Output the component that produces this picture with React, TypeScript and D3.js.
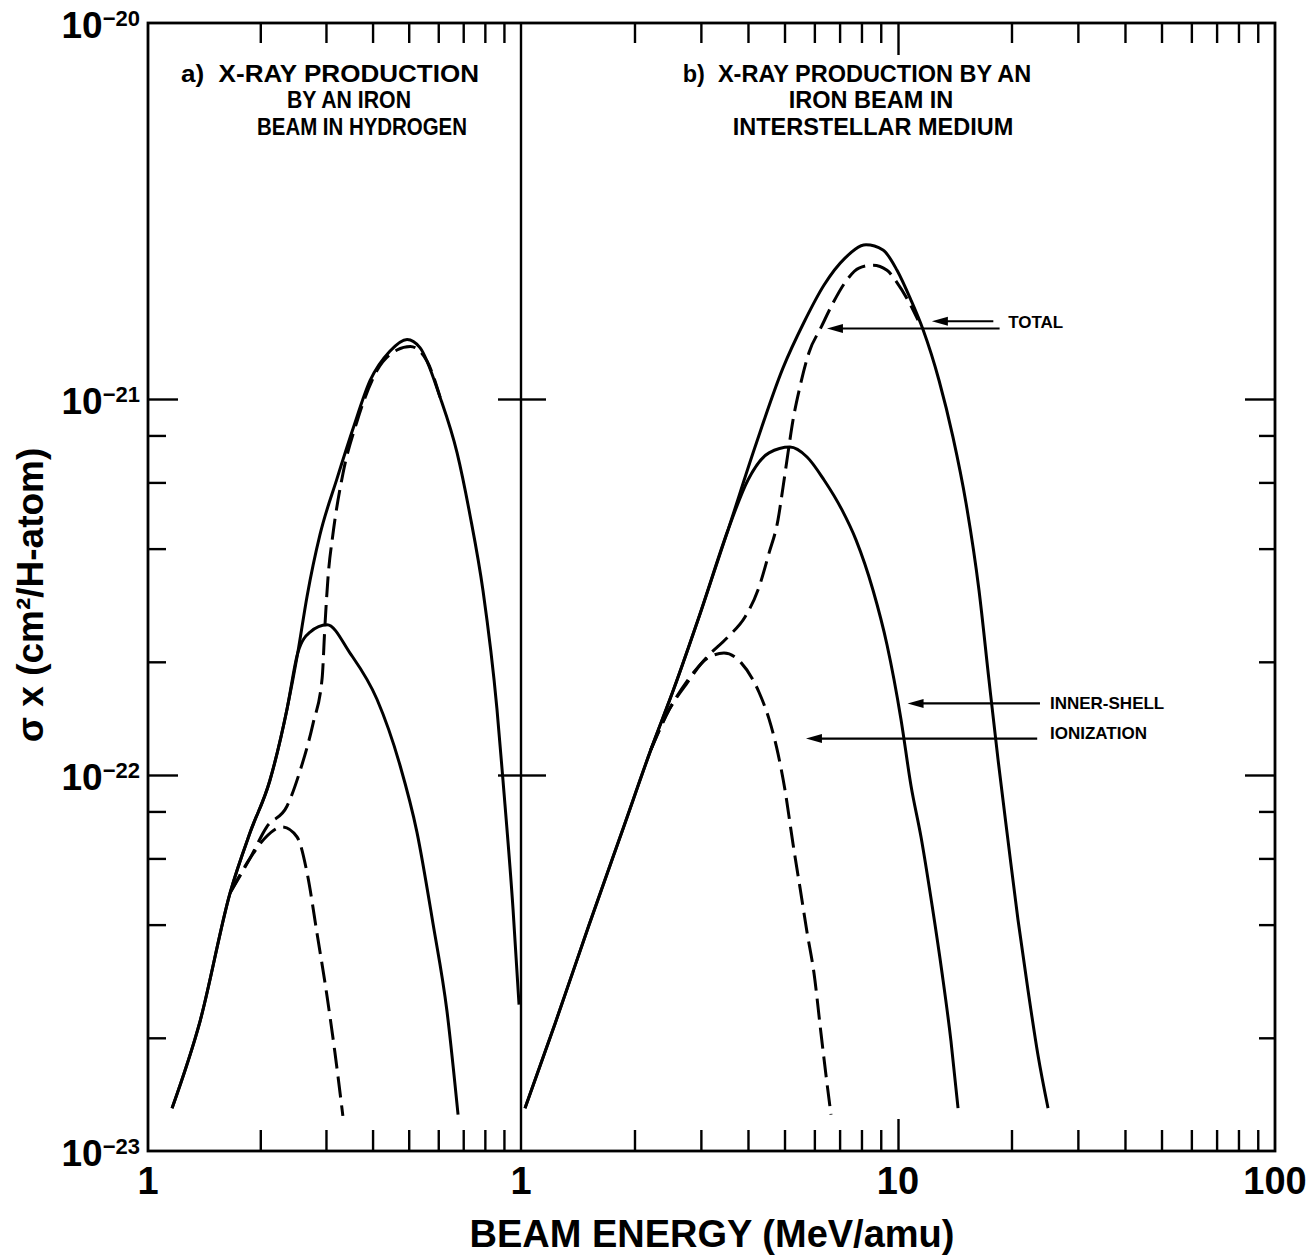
import React from "react";
import * as d3 from "d3";

// values: beam energy in MeV/amu, sigma_x in cm^2/H-atom

// a) X-ray production by an iron beam in hydrogen
const totalAEnergy = [0.116, 0.138, 0.166, 0.188, 0.212, 0.236, 0.252, 0.267, 0.289, 0.321, 0.355, 0.394, 0.445, 0.495, 0.536, 0.607, 0.674, 0.730, 0.791, 0.862, 0.895, 0.952, 0.988];
const totalASigma = [1.30e-23, 2.22e-23, 4.86e-23, 7.05e-23, 9.64e-23, 1.50e-22, 2.11e-22, 2.99e-22, 4.35e-22, 6.13e-22, 8.37e-22, 1.12e-21, 1.34e-21, 1.44e-21, 1.37e-21, 1.01e-21, 7.19e-22, 4.91e-22, 3.09e-22, 1.50e-22, 9.64e-23, 4.40e-23, 2.45e-23];
const innerAEnergy = [0.116, 0.138, 0.166, 0.188, 0.212, 0.236, 0.252, 0.272, 0.302, 0.348, 0.411, 0.474, 0.526, 0.581, 0.633, 0.678];
const innerASigma = [1.30e-23, 2.22e-23, 4.86e-23, 7.05e-23, 9.64e-23, 1.50e-22, 2.11e-22, 2.40e-22, 2.51e-22, 2.11e-22, 1.59e-22, 1.06e-22, 7.05e-23, 4.02e-23, 2.36e-23, 1.25e-23];
const dashTotalAEnergy = [0.166, 0.188, 0.208, 0.236, 0.256, 0.277, 0.293, 0.298, 0.304, 0.313, 0.333, 0.363, 0.411, 0.465, 0.505, 0.560, 0.607];
const dashTotalASigma = [4.86e-23, 6.02e-23, 7.27e-23, 8.27e-23, 1.03e-22, 1.37e-22, 1.81e-22, 2.48e-22, 3.38e-22, 4.35e-22, 6.32e-22, 8.69e-22, 1.19e-21, 1.35e-21, 1.38e-21, 1.26e-21, 1.01e-21];
const dashInnerAEnergy = [0.166, 0.188, 0.206, 0.229, 0.251, 0.267, 0.284, 0.302, 0.317, 0.333];
const dashInnerASigma = [4.86e-23, 6.02e-23, 6.80e-23, 7.27e-23, 6.84e-23, 5.49e-23, 3.78e-23, 2.58e-23, 1.83e-23, 1.24e-23];

// b) X-ray production by an iron beam in interstellar medium
const totalBEnergy = [1.025, 1.231, 1.515, 1.876, 2.212, 2.546, 2.984, 3.540, 4.176, 4.955, 5.632, 6.366, 7.234, 8.227, 9.125, 9.94, 10.83, 11.65, 12.85, 13.99, 15.15, 16.40, 17.43, 18.42, 19.57, 20.81, 22.12, 23.51, 25.00];
const totalBSigma = [1.30e-23, 2.18e-23, 3.99e-23, 7.32e-23, 1.17e-22, 1.70e-22, 2.68e-22, 4.48e-22, 7.45e-22, 1.21e-21, 1.60e-21, 2.01e-21, 2.37e-21, 2.57e-21, 2.49e-21, 2.20e-21, 1.83e-21, 1.53e-21, 1.12e-21, 7.92e-22, 5.29e-22, 3.10e-22, 1.79e-22, 1.10e-22, 6.72e-23, 4.12e-23, 2.68e-23, 1.80e-23, 1.30e-23];
const innerBEnergy = [1.025, 1.231, 1.515, 1.876, 2.212, 2.546, 2.984, 3.540, 4.00, 4.548, 5.171, 5.737, 6.366, 7.103, 7.737, 8.586, 9.35, 10.18, 10.83, 11.51, 12.31, 13.09, 13.82, 14.43];
const innerBSigma = [1.30e-23, 2.18e-23, 3.99e-23, 7.32e-23, 1.17e-22, 1.70e-22, 2.68e-22, 4.48e-22, 6.09e-22, 7.19e-22, 7.45e-22, 7.01e-22, 6.09e-22, 5.07e-22, 4.22e-22, 3.10e-22, 2.22e-22, 1.41e-22, 9.35e-23, 6.84e-23, 4.51e-23, 2.97e-23, 1.96e-23, 1.30e-23];
const dashTotalBEnergy = [2.212, 2.47, 2.773, 3.114, 3.540, 3.928, 4.279, 4.548, 4.805, 4.955, 5.108, 5.267, 5.497, 5.807, 6.25, 6.723, 7.234, 7.88, 8.586, 9.35, 9.94, 10.63, 11.30];
const dashTotalBSigma = [1.17e-22, 1.49e-22, 1.79e-22, 2.06e-22, 2.33e-22, 2.63e-22, 3.16e-22, 3.89e-22, 4.77e-22, 5.83e-22, 7.19e-22, 8.79e-22, 1.08e-21, 1.33e-21, 1.55e-21, 1.80e-21, 2.04e-21, 2.23e-21, 2.27e-21, 2.20e-21, 2.04e-21, 1.83e-21, 1.62e-21];
const dashInnerBEnergy = [2.212, 2.47, 2.74, 3.114, 3.455, 3.834, 4.279, 4.548, 4.805, 5.015, 5.267, 5.497, 5.737, 5.987, 6.25, 6.442, 6.641];
const dashInnerBSigma = [1.17e-22, 1.49e-22, 1.74e-22, 2.04e-22, 2.11e-22, 1.99e-22, 1.66e-22, 1.41e-22, 1.14e-22, 9.12e-23, 6.55e-23, 5.01e-23, 3.82e-23, 2.97e-23, 2.05e-23, 1.59e-23, 1.25e-23];

// axes
const xTickMult = [2, 3, 4, 5, 6, 7, 8, 9];
const xLabelEnergy = [0.1, 1, 10, 100];
const xLabelText = ["1", "1", "10", "100"];
const yLabelValue = [1e-20, 1e-21, 1e-22, 1e-23];
const yLabelExp = ["\u221220", "\u221221", "\u221222", "\u221223"];
const yMinorTicks = [2e-23, 4e-23, 6e-23, 8e-23, 2e-22, 4e-22, 6e-22, 8e-22];
const yMajorTicks = [1e-22, 1e-21];

// titles and annotations
const titleA = ["a)  X-RAY PRODUCTION", "BY AN IRON", "BEAM IN HYDROGEN"];
const titleB = ["b)  X-RAY PRODUCTION BY AN", "IRON BEAM IN", "INTERSTELLAR MEDIUM"];
const arrowFromEnergy = [17.9, 18.6, 23.8, 23.4];
const arrowToEnergy = [12.3, 6.48, 10.6, 5.70];
const arrowSigma = [1.61e-21, 1.54e-21, 1.55e-22, 1.25e-22];
const noteText = ["TOTAL", "INNER-SHELL", "IONIZATION"];
const noteEnergy = [19.6, 25.3, 25.3];
const noteSigma = [1.60e-21, 1.55e-22, 1.29e-22];

export default class App extends React.Component {

    componentDidMount() {
        this.updateChart();
    }

    componentDidUpdate() {
        this.updateChart();
    }

    updateChart() {
        document.body.style.margin = "0";
        d3.select("#xray_chart").selectAll("*").remove();

        const width = 1308, height = 1258;
        const left = 148, right = 1275, top = 23, bottom = 1151, divide = 521;

        const svg = d3.select("#xray_chart")
            .append("svg")
            .attr("width", width)
            .attr("height", height)
            .style("display", "block")
            .style("background", "#fff")
            .attr("font-family", "'Liberation Sans', Arial, Helvetica, sans-serif")
            .attr("font-weight", "bold");

        const xA = d3.scaleLog().domain([0.1, 1]).range([left, divide]);
        const xB = d3.scaleLog().domain([1, 100]).range([divide, right]);
        const y = d3.scaleLog().domain([1e-23, 1e-20]).range([bottom, top]);
        const xAt = (e: number) => (e < 1 ? xA(e) : xB(e));

        const aTicks = xTickMult.map(m => m * 0.1);
        const bTicks = xTickMult.map(m => m).concat(xTickMult.map(m => m * 10));

        // inward ticks, labels drawn separately
        const drawTicks = (axis: any, transform: string) => {
            svg.append("g")
                .attr("transform", transform)
                .call(axis.tickFormat(() => "").tickSizeOuter(0))
                .call((g: any) => g.select(".domain").remove())
                .selectAll("line")
                .attr("stroke", "#000")
                .attr("stroke-width", 2.4);
        };
        drawTicks(d3.axisTop(xA).tickValues(aTicks).tickSizeInner(-20), `translate(0,${top})`);
        drawTicks(d3.axisTop(xB).tickValues(bTicks).tickSizeInner(-20), `translate(0,${top})`);
        drawTicks(d3.axisTop(xB).tickValues([10]).tickSizeInner(-32), `translate(0,${top})`);
        drawTicks(d3.axisBottom(xA).tickValues(aTicks).tickSizeInner(-21), `translate(0,${bottom})`);
        drawTicks(d3.axisBottom(xB).tickValues(bTicks).tickSizeInner(-21), `translate(0,${bottom})`);
        drawTicks(d3.axisBottom(xB).tickValues([10]).tickSizeInner(-32), `translate(0,${bottom})`);
        drawTicks(d3.axisLeft(y).tickValues(yMinorTicks).tickSizeInner(-18), `translate(${left},0)`);
        drawTicks(d3.axisLeft(y).tickValues(yMajorTicks).tickSizeInner(-30), `translate(${left},0)`);
        drawTicks(d3.axisRight(y).tickValues(yMinorTicks).tickSizeInner(-16), `translate(${right},0)`);
        drawTicks(d3.axisRight(y).tickValues(yMajorTicks).tickSizeInner(-30), `translate(${right},0)`);
        drawTicks(d3.axisLeft(y).tickValues(yMajorTicks).tickSizeInner(23), `translate(${divide},0)`);
        drawTicks(d3.axisRight(y).tickValues(yMajorTicks).tickSizeInner(25), `translate(${divide},0)`);

        // frame and panel divider
        svg.append("rect")
            .attr("x", left).attr("y", top)
            .attr("width", right - left).attr("height", bottom - top)
            .attr("fill", "none").attr("stroke", "#000").attr("stroke-width", 2.8);
        svg.append("line")
            .attr("x1", xB(1)).attr("x2", xB(1))
            .attr("y1", top).attr("y2", bottom)
            .attr("stroke", "#000").attr("stroke-width", 2.4);

        // curves
        const curves = [
            { e: totalAEnergy, s: totalASigma, x: xA, dash: false },
            { e: innerAEnergy, s: innerASigma, x: xA, dash: false },
            { e: dashTotalAEnergy, s: dashTotalASigma, x: xA, dash: true },
            { e: dashInnerAEnergy, s: dashInnerASigma, x: xA, dash: true },
            { e: totalBEnergy, s: totalBSigma, x: xB, dash: false },
            { e: innerBEnergy, s: innerBSigma, x: xB, dash: false },
            { e: dashTotalBEnergy, s: dashTotalBSigma, x: xB, dash: true },
            { e: dashInnerBEnergy, s: dashInnerBSigma, x: xB, dash: true },
        ];
        curves.forEach(c => {
            const pts: [number, number][] = c.e.map((e, i) => [e, c.s[i]]);
            const line = d3.line<[number, number]>()
                .x(d => c.x(d[0]))
                .y(d => y(d[1]))
                .curve(d3.curveMonotoneX);
            svg.append("path")
                .attr("d", line(pts))
                .attr("fill", "none")
                .attr("stroke", "#000")
                .attr("stroke-width", 3)
                .attr("stroke-dasharray", c.dash ? "21 8" : null);
        });

        // x tick labels
        svg.append("g")
            .selectAll("text")
            .data(xLabelEnergy)
            .enter()
            .append("text")
            .attr("x", d => xAt(d))
            .attr("y", 1194)
            .attr("text-anchor", "middle")
            .attr("font-size", 38)
            .text((d, i) => xLabelText[i]);

        // y tick labels 10^-n
        const yl = svg.append("g")
            .selectAll("text")
            .data(yLabelValue)
            .enter()
            .append("text")
            .attr("x", 140)
            .attr("y", d => y(d) + 15)
            .attr("text-anchor", "end")
            .attr("font-size", 37);
        yl.append("tspan").text("10");
        yl.append("tspan")
            .attr("dy", -12)
            .attr("font-size", 22)
            .text((d, i) => yLabelExp[i]);

        // axis titles
        svg.append("text")
            .attr("x", 712)
            .attr("y", 1247)
            .attr("text-anchor", "middle")
            .attr("font-size", 38)
            .text("BEAM ENERGY (MeV/amu)");
        svg.append("text")
            .attr("transform", "translate(43,595) rotate(-90)")
            .attr("text-anchor", "middle")
            .attr("font-size", 37)
            .text("\u03c3 x (cm\u00b2/H-atom)");

        // panel titles
        const titleCentersA = [330, 349, 362];
        const titleWidthsA = [298, 124, 210];
        const titleCentersB = [857, 871, 873];
        const titleBase = [82, 108, 135];
        titleA.forEach((t, i) => {
            svg.append("text").attr("x", titleCentersA[i]).attr("y", titleBase[i])
                .attr("text-anchor", "middle").attr("font-size", 23)
                .style("white-space", "pre")
                .attr("textLength", titleWidthsA[i])
                .attr("lengthAdjust", "spacingAndGlyphs")
                .text(t);
        });
        titleB.forEach((t, i) => {
            svg.append("text").attr("x", titleCentersB[i]).attr("y", titleBase[i])
                .attr("text-anchor", "middle").attr("font-size", 23.5)
                .style("white-space", "pre")
                .text(t);
        });

        // annotation arrows
        arrowFromEnergy.forEach((e, i) => {
            const x1 = xB(e), x2 = xB(arrowToEnergy[i]), yy = y(arrowSigma[i]);
            svg.append("line")
                .attr("x1", x1).attr("x2", x2 + 6)
                .attr("y1", yy).attr("y2", yy)
                .attr("stroke", "#000").attr("stroke-width", 2.2);
            svg.append("path")
                .attr("d", `M${x2},${yy}L${x2 + 16},${yy - 4.5}L${x2 + 16},${yy + 4.5}Z`)
                .attr("fill", "#000");
        });
        noteText.forEach((t, i) => {
            svg.append("text")
                .attr("x", xB(noteEnergy[i]))
                .attr("y", y(noteSigma[i]) + 6)
                .attr("font-size", 17)
                .text(t);
        });
    }

    render() {
        return (
            <div id="xray_chart" style={{ position: "absolute", left: 0, top: 0 }}></div>
        );
    }
}
